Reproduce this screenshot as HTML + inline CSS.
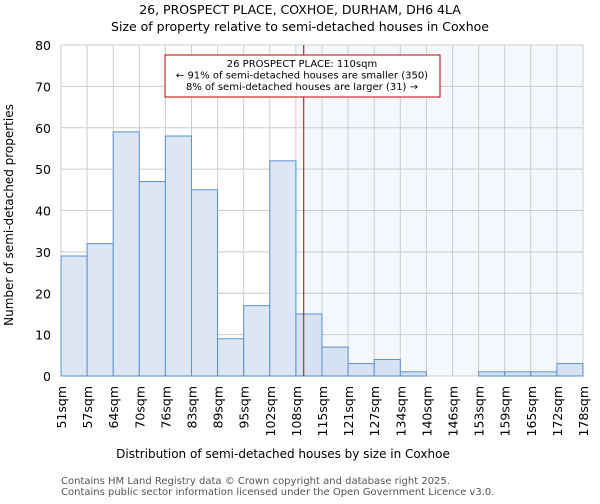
<!DOCTYPE html>
<html><head><meta charset="utf-8"><style>
body{margin:0;background:#fff;font-family:"DejaVu Sans","Liberation Sans",sans-serif;}
</style></head><body>
<svg id="chart" width="600" height="500" xmlns="http://www.w3.org/2000/svg" font-family="DejaVu Sans, Liberation Sans, sans-serif">
<text x="300" y="14" text-anchor="middle" font-size="12.5">26, PROSPECT PLACE, COXHOE, DURHAM, DH6 4LA</text>
<text x="300" y="31" text-anchor="middle" font-size="12.5">Size of property relative to semi-detached houses in Coxhoe</text>
<g id="plot"></g>
<text x="283" y="458" text-anchor="middle" font-size="12">Distribution of semi-detached houses by size in Coxhoe</text>
<text transform="translate(13,215) rotate(-90)" text-anchor="middle" font-size="12">Number of semi-detached properties</text>
<text x="61" y="484" font-size="10" fill="#555">Contains HM Land Registry data © Crown copyright and database right 2025.</text>
<text x="61" y="495" font-size="10" fill="#555">Contains public sector information licensed under the Open Government Licence v3.0.</text>
</svg>
<script>
const edges=["51sqm","57sqm","64sqm","70sqm","76sqm","83sqm","89sqm","95sqm","102sqm","108sqm","115sqm","121sqm","127sqm","134sqm","140sqm","146sqm","153sqm","159sqm","165sqm","172sqm","178sqm"];
const counts=[29,32,59,47,58,45,9,17,52,15,7,3,4,1,0,0,1,1,1,3];
const yTicks=[0,10,20,30,40,50,60,70,80];
const markerBin=9.3;
const NS="http://www.w3.org/2000/svg";
const L=61,R=583,T=45,B=376,yMax=80;
const n=counts.length,bw=(R-L)/n;
const xs=i=>L+i*bw, ys=v=>B-(v/yMax)*(B-T);
const g=document.getElementById('plot');
function mk(t,a){const e=document.createElementNS(NS,t);for(const k in a)e.setAttribute(k,a[k]);g.appendChild(e);return e;}
const mx=xs(markerBin);
let e=mk('rect',{x:mx,y:T,width:R-mx,height:B-T,fill:'#f4f7fd'});


for(let i=0;i<=n;i++){e=mk('line',{x1:xs(i),x2:xs(i),y1:T,y2:B,stroke:'#cccccc','stroke-width':1});

}
yTicks.forEach(v=>{e=mk('line',{x1:L,x2:R,y1:ys(v),y2:ys(v),stroke:'#cccccc','stroke-width':1});


e=mk('text',{x:L-10,y:ys(v)+5,'text-anchor':'end','font-size':'12.5'});e.textContent=v;

});
counts.forEach((c,i)=>{if(c<=0)return;e=mk('rect',{x:xs(i),y:ys(c),width:bw,height:B-ys(c),fill:i>=9?'#d6e2f3':'#dce6f5',stroke:'#5b8fd6','stroke-width':1});

});
edges.forEach((s,i)=>{const x=xs(i);e=mk('text',{transform:`translate(${x+5},${B+10}) rotate(-90)`,'text-anchor':'end','font-size':'12.5'});e.textContent=s;

});
e=mk('line',{x1:mx,x2:mx,y1:T,y2:B,stroke:'#c00000','stroke-width':1});


e=mk('rect',{x:165,y:55,width:275,height:42,fill:'#fff',stroke:'#c00000','stroke-width':1});


["26 PROSPECT PLACE: 110sqm","← 91% of semi-detached houses are smaller (350)","8% of semi-detached houses are larger (31) →"].forEach((t,k)=>{
e=mk('text',{x:302,y:67+k*11.5,'text-anchor':'middle','font-size':'10'});e.textContent=t;

});
</script>
</body></html>
